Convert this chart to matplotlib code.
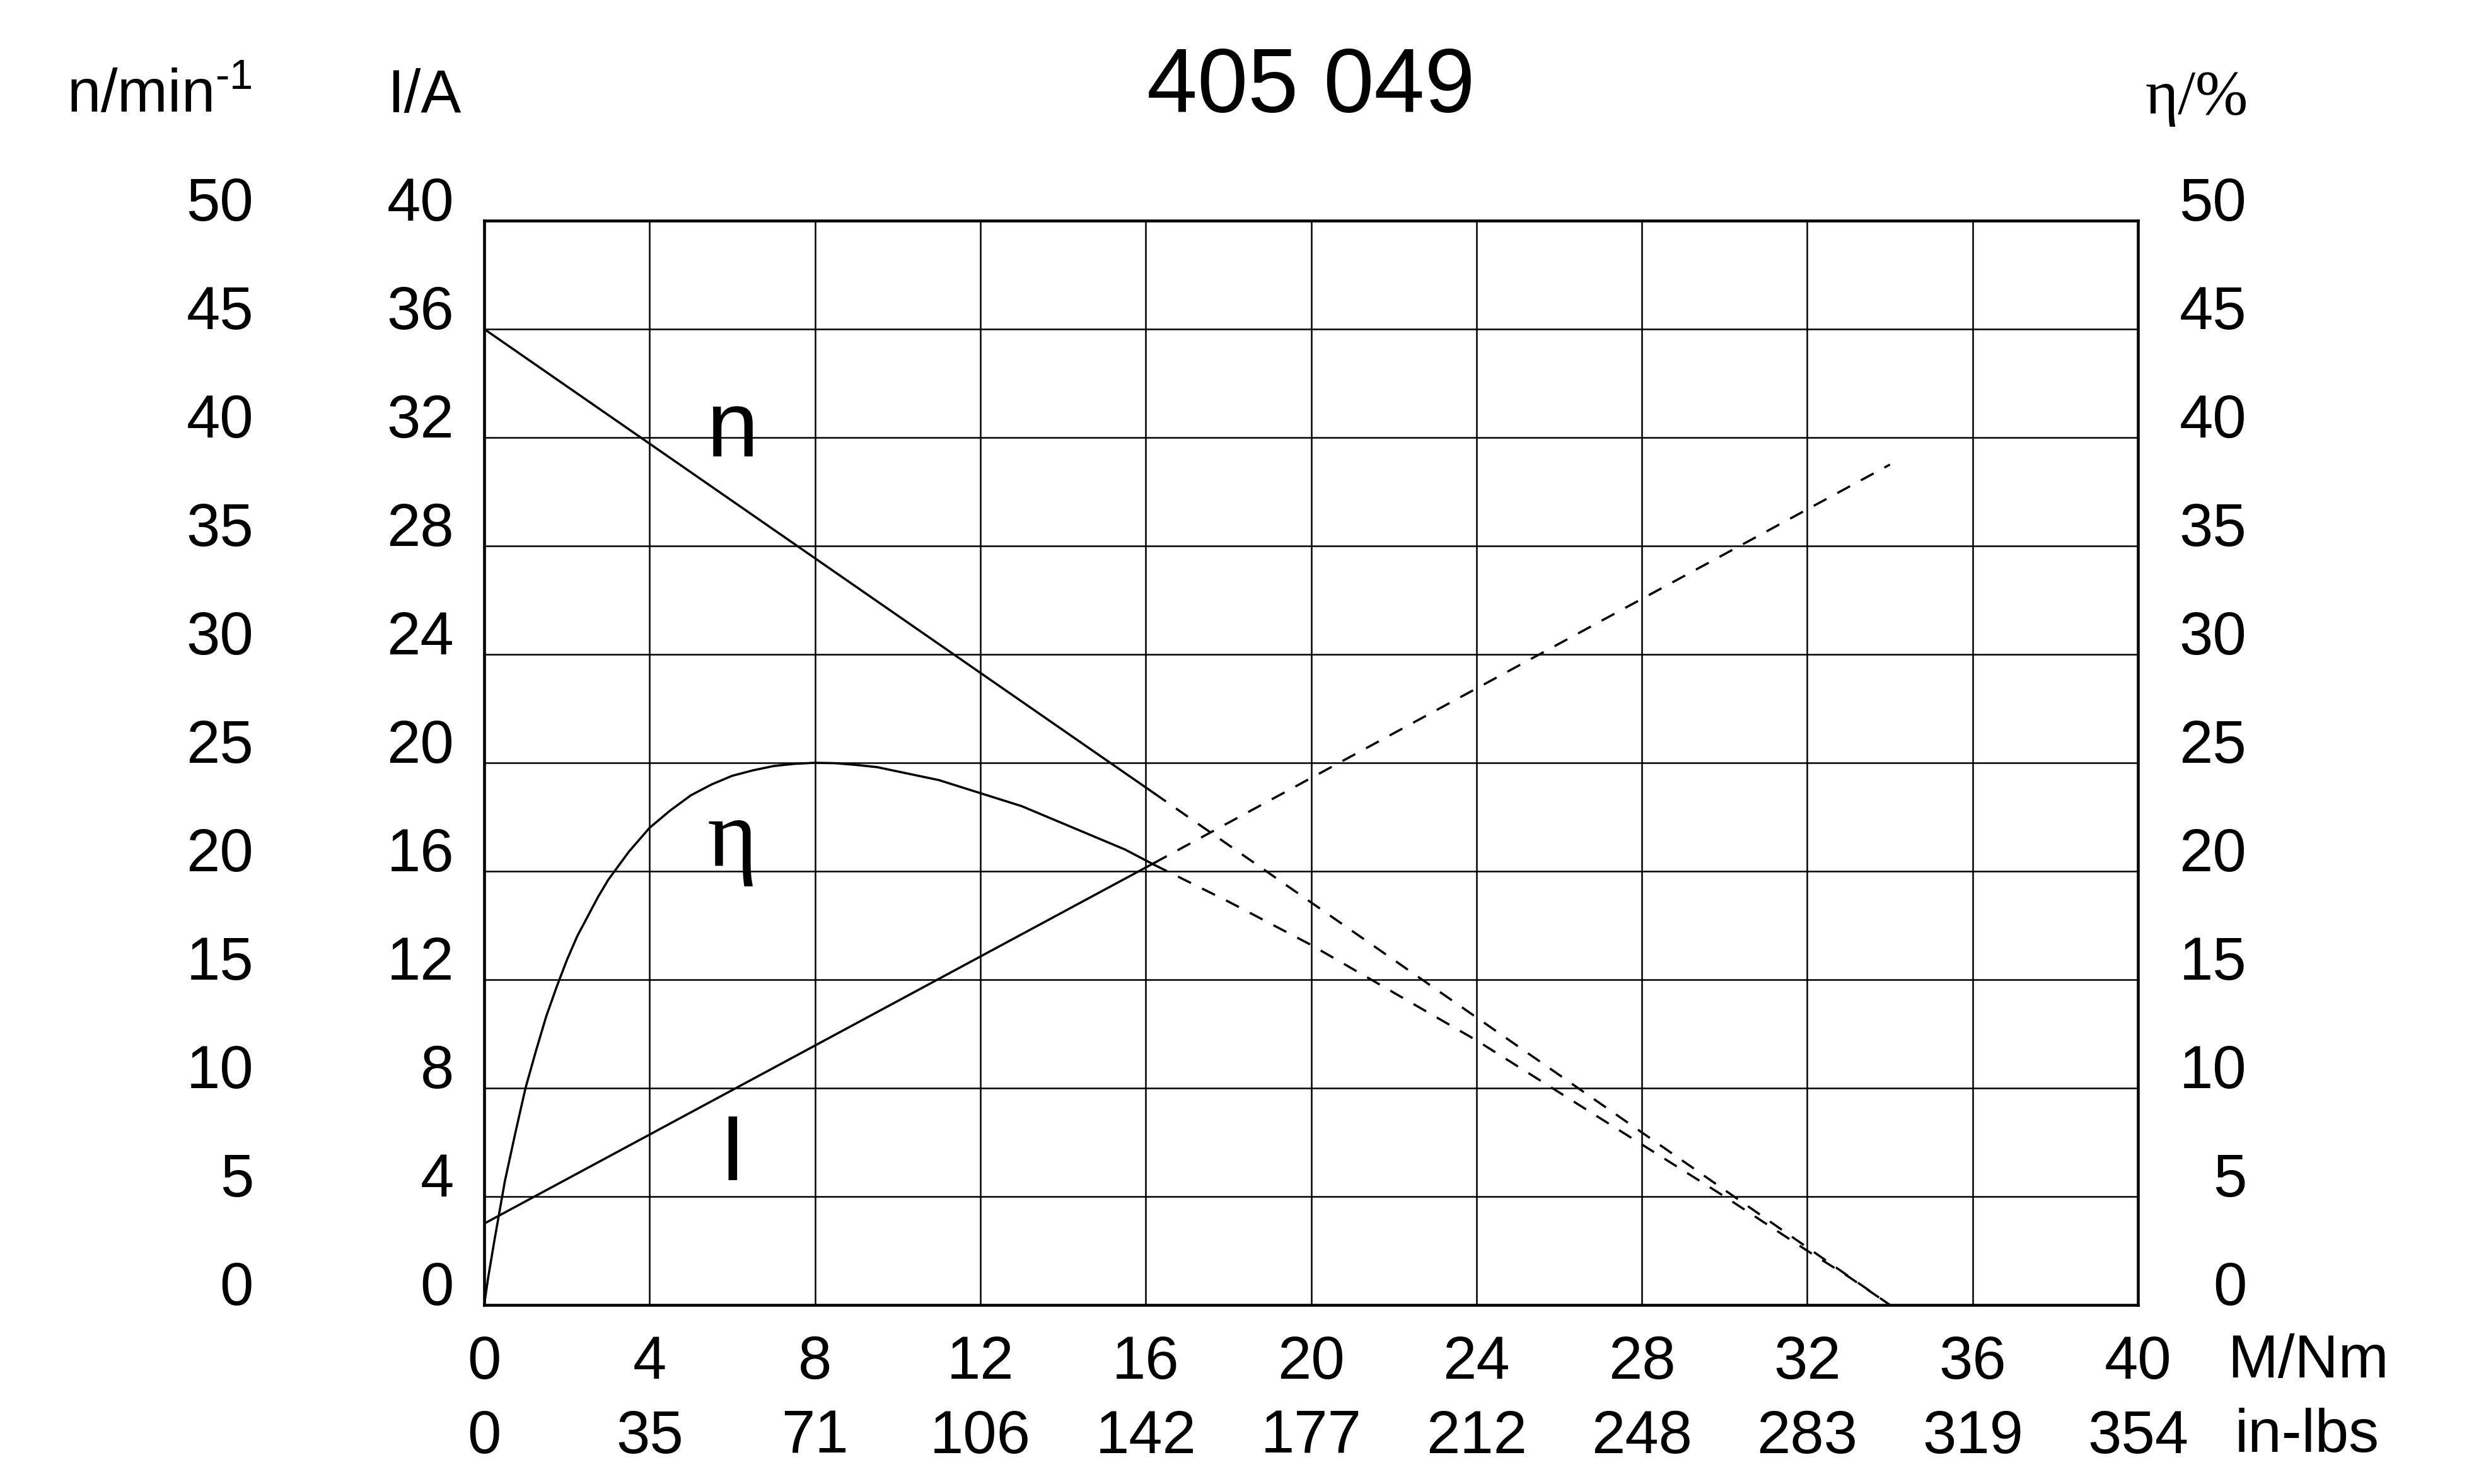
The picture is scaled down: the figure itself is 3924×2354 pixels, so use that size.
import matplotlib
matplotlib.use("Agg")
import matplotlib.pyplot as plt

plt.rcParams['font.family'] = ['Liberation Sans', 'DejaVu Sans']
plt.rcParams['mathtext.fontset'] = 'custom'
plt.rcParams['mathtext.rm'] = 'Liberation Sans'
plt.rcParams['mathtext.it'] = 'Liberation Sans:italic'
plt.rcParams['mathtext.bf'] = 'Liberation Sans:bold'

# osie
m_ticks = [0, 4, 8, 12, 16, 20, 24, 28, 32, 36, 40]
inlbs_labels = ["0", "35", "71", "106", "142", "177", "212", "248", "283", "319", "354"]
i_ticks = [0, 4, 8, 12, 16, 20, 24, 28, 32, 36, 40]
n_ticks = [0, 5, 10, 15, 20, 25, 30, 35, 40, 45, 50]
eta_ticks = [0, 5, 10, 15, 20, 25, 30, 35, 40, 45, 50]

# n (skala 0-50)
n_x = [0.0, 16.2]
n_val = [45.0, 23.6]
n_dx = [16.2, 34.0]
n_dval = [23.6, 0.0]

# prad I/A
i_x = [0.0, 16.2]
i_val = [3.0, 16.3]
i_dx = [16.2, 34.0]
i_dval = [16.3, 31.0]

# sprawnosc eta/%
eta_x = [0, 0.1, 0.25, 0.5, 0.75, 1, 1.25, 1.5, 1.75, 2, 2.25, 2.5, 2.75, 3, 3.5, 4, 4.5, 5, 5.5,
         6, 6.5, 7, 7.5, 8, 8.5, 9, 9.5, 10, 10.5, 11, 11.5, 12, 12.5, 13, 13.5, 14, 14.5,
         15, 15.5, 16.2]
eta_val = [0, 1.3, 3.0, 5.7, 7.9, 10.0, 11.7, 13.3, 14.65, 15.9, 17.0, 17.9, 18.8, 19.6, 20.9,
           22.0, 22.8, 23.5, 24.0, 24.4, 24.65, 24.85, 24.95, 25.0, 24.98, 24.9, 24.8, 24.6,
           24.4, 24.2, 23.9, 23.6, 23.3, 23.0, 22.6, 22.2, 21.8, 21.4, 21.0, 20.3]
eta_dx = [16.2, 18, 20, 22, 24, 26, 28, 30, 32, 33, 34]
eta_dval = [20.3, 18.6, 16.6, 14.4, 12.2, 9.8, 7.4, 5.0, 2.5, 1.3, 0.0]

fs = 23
lw = 0.85
dash = (0, (6.5, 5.5))

fig = plt.figure(figsize=(13.08, 7.8467), dpi=300)
ax = fig.add_axes([0.1957, 0.12065, 0.6685, 0.7307])
ax.set_xlim(0, 40)
ax.set_ylim(0, 40)
ax.set_xticks(m_ticks, [str(t) for t in m_ticks], fontsize=fs)
ax.set_yticks(i_ticks, [str(t) for t in i_ticks], fontsize=fs, va='baseline')
ax.tick_params(axis='both', length=0)
ax.tick_params(axis='x', pad=11.3)
ax.tick_params(axis='y', pad=11.5)
ax.grid(True, color='black', lw=0.6)
for s in ax.spines.values():
    s.set_linewidth(1.1)

sec = ax.secondary_xaxis('bottom')
sec.set_xticks(m_ticks, inlbs_labels, fontsize=fs)
sec.tick_params(length=0, pad=39.6)
sec.spines['bottom'].set_visible(False)

ax.plot(i_x, i_val, color='black', lw=lw)
ax.plot(i_dx, i_dval, color='black', lw=lw, ls=dash)

# prawa os eta
ax_r = ax.twinx()
ax_r.set_ylim(0, 50)
ax_r.set_yticks(eta_ticks, [str(t) for t in eta_ticks], fontsize=fs, va='baseline', ha='right')
ax_r.tick_params(length=0, pad=41.3)
ax_r.plot(eta_x, eta_val, color='black', lw=lw)
ax_r.plot(eta_dx, eta_dval, color='black', lw=lw, ls=dash)

# lewa os n
ax_n = ax.twinx()
ax_n.set_ylim(0, 50)
ax_n.yaxis.tick_left()
ax_n.set_yticks(n_ticks, [str(t) for t in n_ticks], fontsize=fs, va='baseline')
ax_n.tick_params(length=0, pad=87.8)
ax_n.plot(n_x, n_val, color='black', lw=lw)
ax_n.plot(n_dx, n_dval, color='black', lw=lw, ls=dash)

for a in (ax_r, ax_n):
    for s in a.spines.values():
        s.set_visible(False)

# podpisy krzywych
ax.text(6, 31.3, "n", fontsize=35.6, ha='center', va='baseline')
ax.text(6, 16.2, "η", fontsize=36.5, ha='center', va='baseline', family='Liberation Serif')
ax.text(6, 4.6, "I", fontsize=35, ha='center', va='baseline')

# opisy osi i tytul
fig.text(0.530, 0.9244, "405 049", fontsize=34.6, ha='center', va='baseline')
fig.text(0.027, 0.9244, r"n/min$^{\text{-}1}$", fontsize=fs, ha='left', va='baseline')
fig.text(0.1565, 0.9244, "I/A", fontsize=fs, ha='left', va='baseline')
fig.text(0.8672, 0.9235, "η/%", fontsize=24, ha='left', va='baseline', family='Liberation Serif')
fig.text(0.9004, 0.0718, "M/Nm", fontsize=fs, ha='left', va='baseline')
fig.text(0.9034, 0.02167, "in-lbs", fontsize=fs, ha='left', va='baseline')

fig.savefig("out.png", dpi=300)
plt.close()
